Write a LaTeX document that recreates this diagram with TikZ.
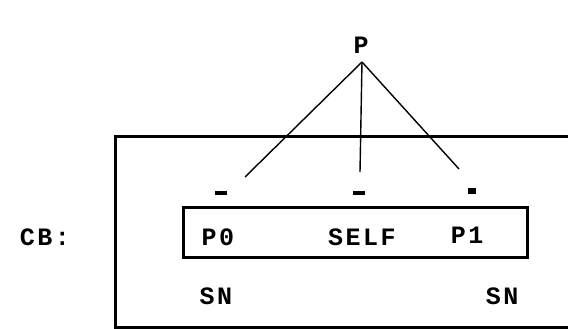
\documentclass[tikz,border=0pt]{standalone}
\usepackage{fontspec}
\setmonofont{Liberation Mono}
\usetikzlibrary{positioning}
\tikzset{
  every picture/.style={x=1pt, y=-1pt, line join=miter},
  every node/.style={inner sep=0pt,
    font=\ttfamily\bfseries\fontsize{25}{25}\selectfont\addfontfeature{LetterSpace=10}},
  % Rahmen und Zweige
  frame/.style={line width=3pt},
  branch/.style={line width=1.4pt},
  slots/.style={draw, frame, minimum width=344pt, minimum height=50pt},
  % Markierungen ueber den Feldern
  tick/.style={fill, minimum width=12pt, minimum height=4pt},
  blob/.style={fill, minimum width=8pt, minimum height=6pt},
}
\begin{document}
\begin{tikzpicture}
  \useasboundingbox (0,0) rectangle (568,329);
  % Baum
  \node (P) at (361,45) {P};
  \coordinate (apex) at (362,62);
  \coordinate (endL) at (245,177);
  \coordinate (endM) at (360,172);
  \coordinate (endR) at (459,169);
  \draw[branch] (apex) -- (endL);
  \draw[branch] (apex) -- (endM);
  \draw[branch] (apex) -- (endR);
  % offener Rahmen
  \draw[frame] (600,136) -- (115,136) -- (115,327) -- (600,327);
  \node (cb) at (45,237) {CB:};
  \node[tick] (t0) at (221,193) {};
  \node[tick] (tS) at (359,193) {};
  \node[blob] (t1) at (472,191) {};
  \node[slots] (row) at (355,232) {};
  \node (p0) at (218,237) {P0};
  \node (self) at (362,237) {SELF};
  \node (p1) at (467,235) {P1};
  \node (sn0) at (216,296) {SN};
  \node (sn1) at (502,296) {SN};
\end{tikzpicture}
\end{document}
